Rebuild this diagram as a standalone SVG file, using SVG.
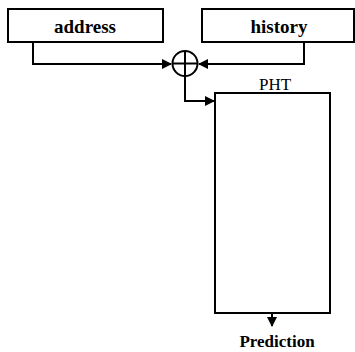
<svg xmlns="http://www.w3.org/2000/svg" width="355" height="352" viewBox="0 0 355 352">
  <style>
    .box { fill: #fff; stroke: #000; stroke-width: 2; }
    .wire { fill: none; stroke: #000; stroke-width: 2; }
    .lbl { font-family: "Liberation Serif", "Times New Roman", serif; fill: #000; text-anchor: middle; }
    .b { font-weight: bold; }
  </style>
  <defs>
    <marker id="arrow" markerWidth="10" markerHeight="10" refX="9" refY="5" orient="auto" markerUnits="userSpaceOnUse">
      <path d="M0,0 L10,5 L0,10 Z" fill="#000"/>
    </marker>
  </defs>

  <g id="address">
    <rect class="box" x="8" y="9" width="155" height="33"/>
    <text class="lbl b" x="85" y="33" font-size="19">address</text>
  </g>

  <g id="history">
    <rect class="box" x="202" y="9" width="152" height="33"/>
    <text class="lbl b" x="279" y="33" font-size="19">history</text>
  </g>

  <g id="xor">
    <circle class="wire" cx="185" cy="63.5" r="12.5"/>
    <path class="wire" d="M172.5,63.5 H197.5 M185,51 V76"/>
  </g>

  <g id="pht">
    <text class="lbl" x="275" y="90" font-size="17">PHT</text>
    <rect class="box" x="215" y="93" width="115" height="220"/>
  </g>

  <g id="prediction">
    <text class="lbl b" x="277" y="347" font-size="17">Prediction</text>
  </g>

  <g id="connectors">
    <path class="wire" d="M33,42 V64 H171" marker-end="url(#arrow)"/>
    <path class="wire" d="M304,42 V64 H199" marker-end="url(#arrow)"/>
    <path class="wire" d="M185,76 V101 H214" marker-end="url(#arrow)"/>
    <path class="wire" d="M272,313 V326" marker-end="url(#arrow)"/>
  </g>
</svg>
